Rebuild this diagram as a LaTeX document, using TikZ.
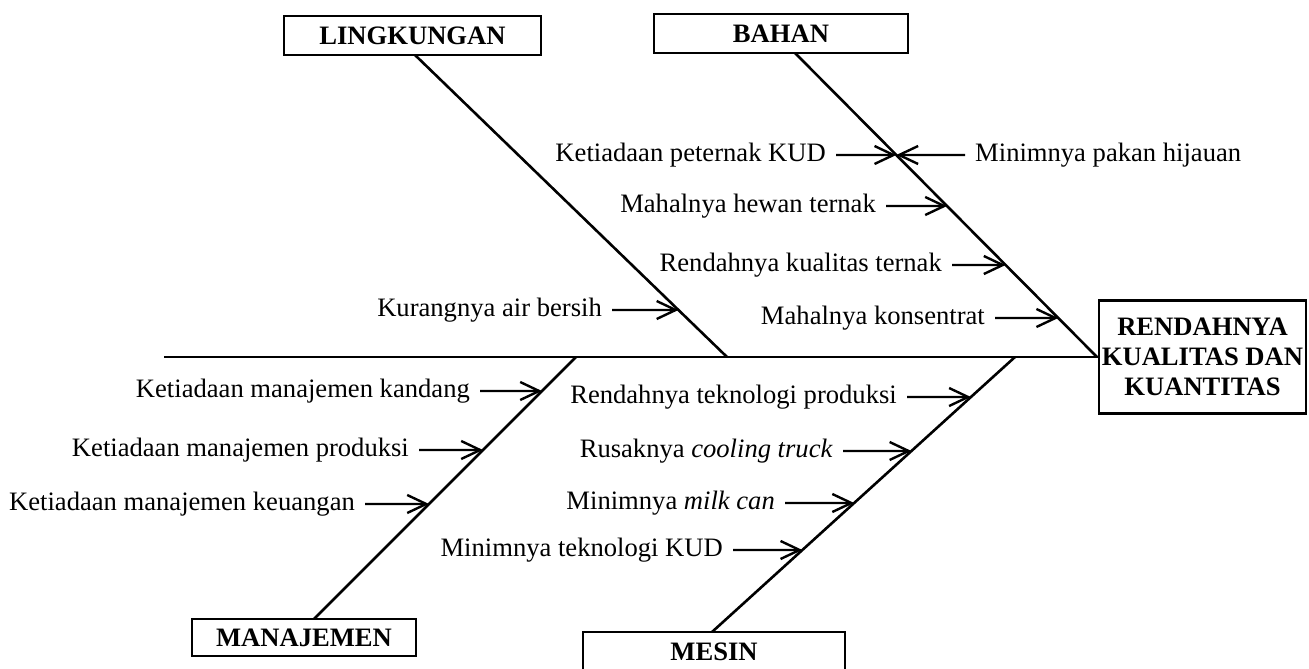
\documentclass[tikz,border=0pt]{standalone}
\usepackage{fontspec}
\setmainfont{Liberation Serif}
\usetikzlibrary{arrows.meta,calc}
\begin{document}
\begin{tikzpicture}[x=1pt,y=-1pt,
  txt/.style={font=\fontsize{26.6}{30}\selectfont, inner sep=0pt, text height=18pt, text depth=6pt},
  catbox/.style={draw, line width=2.8pt, inner sep=0pt, font=\fontsize{26.6}{30}\selectfont\bfseries},
  bone/.style={line width=2.6pt},
  cause/.style={line width=2.4pt, -{Straight Barb[length=19pt,width=18pt]}}]
\useasboundingbox (0,0) rectangle (1309,669);

% category boxes and effect box
\node[catbox, minimum width=257pt, minimum height=39pt] (ling) at (412.5,35.5) {LINGKUNGAN};
\node[catbox, minimum width=254pt, minimum height=39pt] (bahan) at (781,33.5) {BAHAN};
\node[catbox, minimum width=224pt, minimum height=37pt] (manaj) at (304,637.5) {MANAJEMEN};
\node[catbox, minimum width=262pt, minimum height=40pt] (mesin) at (714,652) {MESIN};
\node[catbox, minimum width=207pt, minimum height=113pt, align=center] (effect) at (1202.5,357) {RENDAHNYA\\KUALITAS DAN\\KUANTITAS};

% bone end points
\coordinate (spineL) at (164,357);
\coordinate (L1) at (415,55);   \coordinate (L2) at (727,357);
\coordinate (B1) at (795,53);   \coordinate (B2) at (1097,357);
\coordinate (M1) at (576,357);  \coordinate (M2) at (314,619);
\coordinate (S1) at (1015,357); \coordinate (S2) at (712,632);

% spine and bones
\draw[bone] (spineL) -- (effect.west);
\draw[bone] (L1) -- (L2);
\draw[bone] (B1) -- (B2);
\draw[bone] (M1) -- (M2);
\draw[bone] (S1) -- (S2);

% BAHAN causes
\node[txt, anchor=east] (b1) at (826,155) {Ketiadaan peternak KUD};
\draw[cause] ([xshift=10pt]b1.east) -- ($(B1)!0.3355!(B2)$);
\node[txt, anchor=west] (b2) at (975,155) {Minimnya pakan hijauan};
\draw[cause] ([xshift=-10pt]b2.west) -- ($(B1)!0.3355!(B2)$);
\node[txt, anchor=east] (b3) at (876,206) {Mahalnya hewan ternak};
\draw[cause] ([xshift=10pt]b3.east) -- ($(B1)!0.5033!(B2)$);
\node[txt, anchor=east] (b4) at (942,265) {Rendahnya kualitas ternak};
\draw[cause] ([xshift=10pt]b4.east) -- ($(B1)!0.6974!(B2)$);
\node[txt, anchor=east] (b5) at (985,318) {Mahalnya konsentrat};
\draw[cause] ([xshift=10pt]b5.east) -- ($(B1)!0.8717!(B2)$);

% LINGKUNGAN cause
\node[txt, anchor=east] (l1) at (602,310) {Kurangnya air bersih};
\draw[cause] ([xshift=10pt]l1.east) -- ($(L1)!0.8444!(L2)$);

% MANAJEMEN causes
\node[txt, anchor=east] (m1) at (470,391) {Ketiadaan manajemen kandang};
\draw[cause] ([xshift=10pt]m1.east) -- ($(M1)!0.1298!(M2)$);
\node[txt, anchor=east] (m2) at (409,450) {Ketiadaan manajemen produksi};
\draw[cause] ([xshift=10pt]m2.east) -- ($(M1)!0.355!(M2)$);
\node[txt, anchor=east] (m3) at (355,504) {Ketiadaan manajemen keuangan};
\draw[cause] ([xshift=10pt]m3.east) -- ($(M1)!0.561!(M2)$);

% MESIN causes
\node[txt, anchor=east] (s1) at (897,397) {Rendahnya teknologi produksi};
\draw[cause] ([xshift=10pt]s1.east) -- ($(S1)!0.1455!(S2)$);
\node[txt, anchor=east] (s2) at (833,451) {Rusaknya \textit{cooling truck}};
\draw[cause] ([xshift=10pt]s2.east) -- ($(S1)!0.3418!(S2)$);
\node[txt, anchor=east] (s3) at (775,503) {Minimnya \textit{milk can}};
\draw[cause] ([xshift=10pt]s3.east) -- ($(S1)!0.5309!(S2)$);
\node[txt, anchor=east] (s4) at (723,550) {Minimnya teknologi KUD};
\draw[cause] ([xshift=10pt]s4.east) -- ($(S1)!0.7018!(S2)$);
\end{tikzpicture}
\end{document}
